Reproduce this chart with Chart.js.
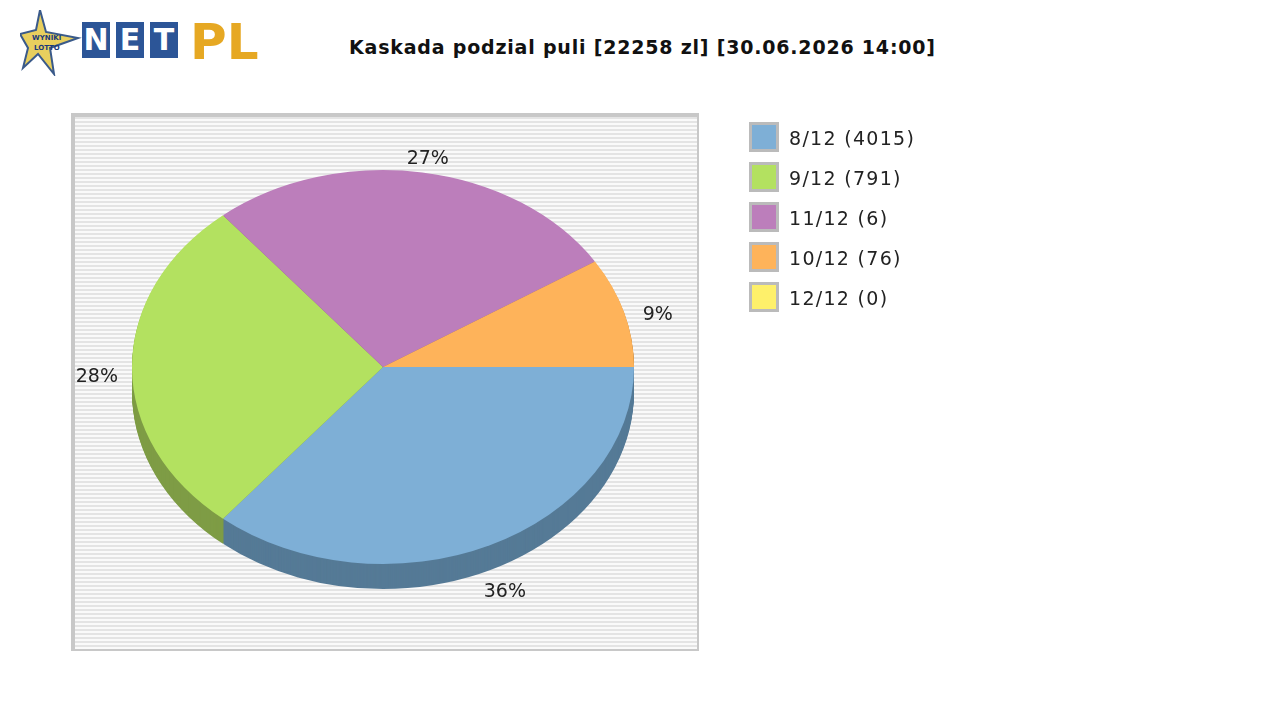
<!DOCTYPE html>
<html>
<head>
<meta charset="utf-8">
<script src="https://cdn.jsdelivr.net/npm/chart.js@4.4.1/dist/chart.umd.min.js"></script>
<style>
  body { margin: 0; background: #fff; font-family: "DejaVu Sans", sans-serif; }
  #wrap { position: relative; width: 1280px; height: 720px; overflow: hidden; }
  #plotbox {
    position: absolute; left: 71px; top: 113px; width: 622px; height: 532px;
    border-left: 4px solid #c8c8c8; border-top: 4px solid #c8c8c8;
    border-right: 2px solid #c8c8c8; border-bottom: 2px solid #c8c8c8;
    background: repeating-linear-gradient(to bottom, #e4e4e4 0px, #e4e4e4 2px, #fafafa 2px, #fafafa 4px);
  }
  #chart { position: absolute; left: 0; top: 0; }
  #title { position: absolute; left: 349px; top: 36px; font-weight: bold; font-size: 19px; letter-spacing: 0.8px; color: #111; }
  .leg { position: absolute; left: 749px; font-size: 19px; letter-spacing: 1.3px; color: #222; }
  .leg span { display: inline-block; width: 24px; height: 24px; border: 3px solid #bbb; vertical-align: middle; margin-right: 10px; position: relative; top: -2px; }
  #logo { position: absolute; left: 20px; top: 12px; height: 56px; }
  .box { position: absolute; top: 10px; width: 28px; height: 36px; background: #2c5597; color: #fff; font: bold 30px "DejaVu Sans"; text-align: center; line-height: 36px; }
</style>
</head>
<body>
<div id="wrap">
  <div id="logo">
    <svg width="62" height="66" style="position:absolute;left:0;top:-2px">
      <polygon points="20,0 26,22 58,28 30,38 34,64 18,44 3,58 8,38 0,24 16,20" fill="#e8cf5e" stroke="#3a5a8a" stroke-width="2"/>
      <text x="12" y="30" font-size="7" font-weight="bold" fill="#1a3a7a">WYNIKI</text>
      <text x="14" y="40" font-size="7" font-weight="bold" fill="#1a3a7a">LOTTO</text>
    </svg>
    <div class="box" style="left:62px">N</div>
    <div class="box" style="left:96px">E</div>
    <div class="box" style="left:130px">T</div>
    <div style="position:absolute;left:170px;top:2px;font:bold 50px 'DejaVu Sans';color:#e6a823;line-height:56px">PL</div>
  </div>
  <div id="title">Kaskada podzial puli [22258 zl] [30.06.2026 14:00]</div>
  <div id="plotbox"></div>
  <canvas id="chart" width="1280" height="720"></canvas>
  <div id="legend"></div>
</div>
<script>
const categories = ["8/12", "9/12", "11/12", "10/12", "12/12"];
const winners = [4015, 791, 6, 76, 0];
const shares = [36, 28, 27, 9, 0];
const colors = ["#7eafd6", "#b3e160", "#bc7ebb", "#feb35a", "#fef06a"];
const shades = ["#557a96", "#7e9c45", "#855985", "#b07e40", "#b0a84a"];

const yScale = 0.785;
const depth = 25;

const legend = document.getElementById("legend");
categories.forEach((c, i) => {
  const d = document.createElement("div");
  d.className = "leg";
  d.style.top = (124 + i * 40) + "px";
  d.innerHTML = '<span style="background:' + colors[i] + '"></span>' + c + " (" + winners[i] + ")";
  legend.appendChild(d);
});

const ellipsePlugin = {
  id: "ellipse",
  beforeDatasetsDraw(chart) {
    const ctx = chart.ctx;
    const arcs = chart.getDatasetMeta(0).data;
    const cx = arcs[0].x, cy = arcs[0].y;
    // extruded side
    for (let d = depth; d > 0; d--) {
      ctx.save();
      ctx.translate(cx, cy + d);
      ctx.scale(1, yScale);
      arcs.forEach((a, i) => {
        if (a.endAngle - a.startAngle <= 0) return;
        ctx.beginPath();
        ctx.moveTo(0, 0);
        ctx.arc(0, 0, a.outerRadius, a.startAngle, a.endAngle);
        ctx.closePath();
        ctx.fillStyle = shades[i];
        ctx.fill();
      });
      ctx.restore();
    }
    ctx.save();
    ctx.translate(cx, cy);
    ctx.scale(1, yScale);
    ctx.translate(-cx, -cy);
  },
  afterDatasetsDraw(chart) {
    const ctx = chart.ctx;
    ctx.restore();
    const arcs = chart.getDatasetMeta(0).data;
    ctx.save();
    ctx.font = "19px 'DejaVu Sans'";
    ctx.fillStyle = "#222";
    ctx.textAlign = "center";
    ctx.textBaseline = "middle";
    arcs.forEach((a, i) => {
      if (shares[i] <= 0) return;
      const m = (a.startAngle + a.endAngle) / 2;
      const x = a.x + a.outerRadius * 1.14 * Math.cos(m);
      let y = a.y + a.outerRadius * 1.12 * yScale * Math.sin(m);
      y += Math.sin(m) > 0.2 ? depth : 10;
      ctx.fillText(shares[i] + "%", x, y);
    });
    ctx.restore();
  }
};

new Chart(document.getElementById("chart"), {
  type: "pie",
  data: {
    labels: categories,
    datasets: [{ data: shares, backgroundColor: colors, borderWidth: 0 }]
  },
  options: {
    responsive: false,
    animation: false,
    rotation: 90,
    layout: { padding: { left: 132, right: 646, top: 116, bottom: 102 } },
    plugins: { legend: { display: false }, tooltip: { enabled: false } }
  },
  plugins: [ellipsePlugin]
});
</script>
</body>
</html>
